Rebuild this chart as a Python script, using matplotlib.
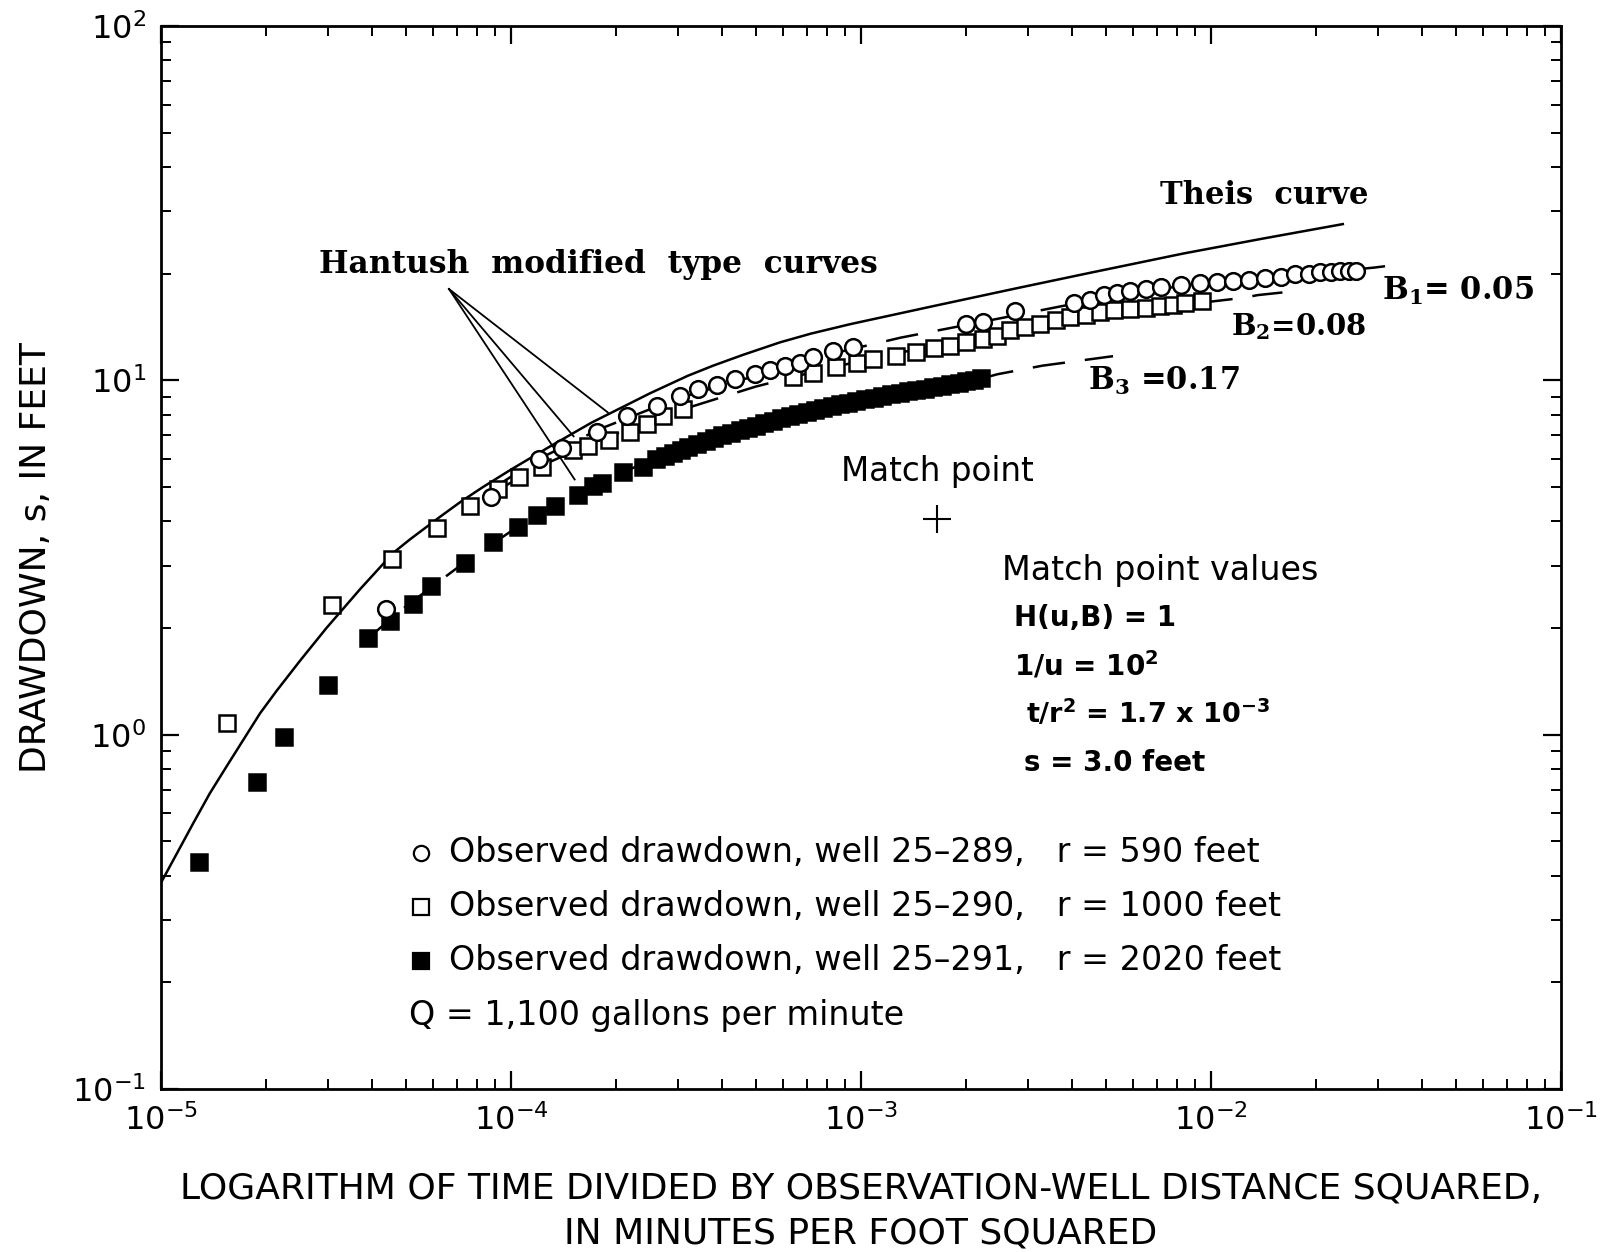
import matplotlib
matplotlib.use('Agg')
import matplotlib.pyplot as plt

# Theis type curve
theis_x = [1.0e-5, 1.237e-5, 1.38e-5, 1.54e-5, 1.72e-5, 1.92e-5, 2.14e-5, 2.5e-5, 2.97e-5, 3.7e-5,
           4.61e-5, 5.15e-5, 6.27e-5, 7.2e-5, 8.32e-5, 1.0e-4, 1.29e-4, 1.7e-4, 2.5e-4, 3.2e-4,
           3.78e-4, 4.6e-4, 5.87e-4, 7.2e-4, 9.3e-4, 1.61e-3, 2.79e-3, 4.5e-3, 8.34e-3, 1.4e-2, 2.38e-2]
theis_y = [0.382, 0.563, 0.684, 0.814, 0.968, 1.15, 1.33, 1.62, 2.0, 2.57,
           3.26, 3.56, 4.12, 4.55, 5.0, 5.6, 6.5, 7.6, 9.2, 10.3,
           11.0, 11.8, 12.8, 13.55, 14.4, 16.2, 18.2, 20.1, 22.8, 25.1, 27.6]

# Hantush modified type curves
b1_x = [9e-5, 1.2e-4, 1.8e-4, 3e-4, 5e-4, 8e-4, 1.3e-3, 2.2e-3, 4e-3, 7e-3, 1.2e-2, 2.0e-2, 2.92e-2, 3.54e-2]
b1_y = [5.0, 6.0, 7.3, 8.9, 10.3, 11.8, 13.2, 14.6, 16.4, 18.1, 19.2, 20.1, 20.8, 21.3]
b2_x = [9e-5, 1.2e-4, 1.8e-4, 3e-4, 5e-4, 8e-4, 1.3e-3, 2.2e-3, 4e-3, 7e-3, 1.01e-2, 1.24e-2, 1.36e-2, 1.6e-2]
b2_y = [4.85, 5.7, 6.8, 8.2, 9.6, 10.8, 12.0, 13.1, 15.1, 16.1, 16.7, 17.1, 17.4, 17.7]
b3_x = [3.8e-5, 5e-5, 7e-5, 1e-4, 1.5e-4, 2.5e-4, 4e-4, 7e-4, 1.2e-3, 2.2e-3, 2.45e-3, 3.3e-3, 5.25e-3]
b3_y = [1.83, 2.3, 2.95, 3.75, 4.75, 5.95, 7.0, 8.15, 9.1, 10.1, 10.4, 11.0, 11.7]

# Observed drawdown, well 25-289 (r = 590 ft)
w289_x = [4.39e-5, 8.77e-5, 1.2e-4, 1.4e-4, 1.76e-4, 2.14e-4, 2.61e-4, 3.04e-4, 3.43e-4, 3.87e-4,
          4.37e-4, 4.98e-4, 5.5e-4, 6.07e-4, 6.7e-4, 7.29e-4, 8.32e-4, 9.49e-4, 2.0e-3, 2.23e-3,
          2.75e-3, 4.06e-3, 4.5e-3, 4.95e-3, 5.4e-3, 5.87e-3, 6.5e-3, 7.2e-3, 8.2e-3, 9.3e-3,
          1.04e-2, 1.156e-2, 1.28e-2, 1.426e-2, 1.58e-2, 1.74e-2, 1.9e-2, 2.05e-2, 2.2e-2, 2.34e-2,
          2.48e-2, 2.6e-2]
w289_y = [2.27, 4.70, 5.98, 6.43, 7.13, 7.91, 8.46, 9.03, 9.43, 9.68,
          10.07, 10.4, 10.7, 11.0, 11.2, 11.6, 12.1, 12.4, 14.4, 14.6,
          15.7, 16.5, 16.9, 17.4, 17.6, 17.9, 18.1, 18.3, 18.6, 18.8,
          18.9, 19.05, 19.2, 19.4, 19.6, 19.9, 20.0, 20.2, 20.2, 20.3,
          20.3, 20.3]

# Observed drawdown, well 25-290 (r = 1000 ft)
w290_x = [1.54e-5, 3.09e-5, 4.58e-5, 6.16e-5, 7.64e-5, 9.18e-5, 1.054e-4, 1.227e-4, 1.503e-4, 1.66e-4,
          1.9e-4, 2.19e-4, 2.44e-4, 2.72e-4, 3.1e-4, 6.39e-4, 7.29e-4, 8.5e-4, 9.72e-4, 1.08e-3,
          1.26e-3, 1.44e-3, 1.62e-3, 1.8e-3, 2.0e-3, 2.23e-3, 2.44e-3, 2.67e-3, 2.95e-3, 3.25e-3,
          3.6e-3, 3.96e-3, 4.4e-3, 4.82e-3, 5.3e-3, 5.87e-3, 6.5e-3, 7.15e-3, 7.8e-3, 8.43e-3, 9.43e-3]
w290_y = [1.08, 2.33, 3.14, 3.82, 4.43, 4.92, 5.35, 5.71, 6.34, 6.51,
          6.8, 7.13, 7.51, 7.93, 8.28, 10.2, 10.5, 10.9, 11.2, 11.5,
          11.7, 12.0, 12.3, 12.5, 12.8, 13.1, 13.3, 13.9, 14.1, 14.4,
          14.8, 15.1, 15.3, 15.6, 15.8, 15.9, 16.0, 16.2, 16.3, 16.5, 16.7]

# Observed drawdown, well 25-291 (r = 2020 ft)
w291_x = [1.28e-5, 1.88e-5, 2.25e-5, 3.0e-5, 3.9e-5, 4.51e-5, 5.25e-5, 5.91e-5, 7.39e-5, 8.89e-5,
          1.05e-4, 1.19e-4, 1.34e-4, 1.55e-4, 1.71e-4, 1.82e-4, 2.09e-4, 2.38e-4,
          2.6e-4, 2.75e-4, 2.9e-4, 3.05e-4, 3.2e-4, 3.4e-4, 3.6e-4, 3.8e-4, 4.0e-4, 4.25e-4,
          4.5e-4, 4.75e-4, 5.0e-4, 5.3e-4, 5.6e-4, 5.9e-4, 6.25e-4, 6.6e-4, 7.0e-4, 7.4e-4,
          7.8e-4, 8.25e-4, 8.7e-4, 9.2e-4, 9.7e-4, 1.03e-3, 1.09e-3, 1.15e-3, 1.22e-3, 1.29e-3,
          1.36e-3, 1.44e-3, 1.52e-3, 1.61e-3, 1.7e-3, 1.8e-3, 1.9e-3, 2.0e-3, 2.1e-3, 2.2e-3]
w291_y = [0.437, 0.736, 0.987, 1.38, 1.87, 2.09, 2.34, 2.62, 3.06, 3.49,
          3.85, 4.18, 4.41, 4.76, 5.02, 5.12, 5.50, 5.71,
          6.0, 6.12, 6.25, 6.37, 6.48, 6.62, 6.76, 6.88, 7.0, 7.12,
          7.24, 7.35, 7.45, 7.57, 7.7, 7.82, 7.93, 8.04, 8.15, 8.26,
          8.36, 8.46, 8.55, 8.64, 8.74, 8.84, 8.94, 9.03, 9.13, 9.22,
          9.31, 9.4, 9.48, 9.57, 9.66, 9.76, 9.86, 9.95, 10.05, 10.15]

match_x = [1.65e-3]
match_y = [4.05]

# pointer lines for the Hantush label
pointer_start = (6.65e-5, 18.1)
pointer_tips_x = [1.89e-4, 1.51e-4, 1.52e-4]
pointer_tips_y = [8.12, 6.95, 5.25]

legend_rows = ['Observed drawdown, well 25\u2013289,   r = 590 feet',
               'Observed drawdown, well 25\u2013290,   r = 1000 feet',
               'Observed drawdown, well 25\u2013291,   r = 2020 feet']

SANS = 'DejaVu Sans'
SERIF = 'DejaVu Serif'


def plot():
    plt.rcParams['font.family'] = [SANS]
    plt.rcParams['mathtext.fontset'] = 'custom'
    plt.rcParams['mathtext.rm'] = SANS

    fig = plt.figure(figsize=(16.11, 12.52), dpi=100)
    ax = fig.add_axes([161 / 1611, 1 - 1089 / 1252, 1400 / 1611, 1063 / 1252])
    ax.set_xscale('log')
    ax.set_yscale('log')
    ax.set_xlim(1e-5, 1e-1)
    ax.set_ylim(1e-1, 1e2)

    ms = 12
    mew = 1.8
    dash = (0, (13, 8))

    ax.plot(theis_x, theis_y, color='black', lw=1.8, zorder=2)
    for cx, cy in [(b1_x, b1_y), (b2_x, b2_y), (b3_x, b3_y)]:
        ax.plot(cx, cy, color='black', lw=1.8, linestyle=dash, zorder=2)

    ax.plot(w291_x, w291_y, 's', ms=ms, mfc='black', mec='black', mew=mew, zorder=3)
    ax.plot(w290_x, w290_y, 's', ms=ms, mfc='white', mec='black', mew=mew, zorder=4)
    ax.plot(w289_x, w289_y, 'o', ms=ms, mfc='white', mec='black', mew=mew, zorder=5)
    ax.plot(match_x, match_y, '+', ms=20, mew=1.5, color='black', zorder=5)

    for tx, ty in zip(pointer_tips_x, pointer_tips_y):
        ax.plot([pointer_start[0], tx], [pointer_start[1], ty], color='black', lw=1.3, zorder=2)

    # ticks and spines
    for side in ['top', 'right', 'bottom', 'left']:
        ax.spines[side].set_linewidth(2.0)
    ax.tick_params(which='both', direction='in', top=True, right=True, colors='black')
    ax.tick_params(which='major', length=13, width=1.6, labelsize=23, pad=11)
    ax.tick_params(which='minor', length=7, width=1.4)
    ax.set_xticks([1e-5, 1e-4, 1e-3, 1e-2, 1e-1])
    ax.set_xticklabels([r'$\mathregular{10^{-5}}$', r'$\mathregular{10^{-4}}$', r'$\mathregular{10^{-3}}$',
                        r'$\mathregular{10^{-2}}$', r'$\mathregular{10^{-1}}$'])
    ax.set_yticks([1e-1, 1e0, 1e1, 1e2])
    ax.set_yticklabels([r'$\mathregular{10^{-1}}$', r'$\mathregular{10^{0}}$', r'$\mathregular{10^{1}}$',
                        r'$\mathregular{10^{2}}$'])

    ax.set_ylabel('DRAWDOWN, s, IN FEET', fontsize=26)
    ax.yaxis.set_label_coords(-0.077, 0.5)
    ax.set_xlabel('LOGARITHM OF TIME DIVIDED BY OBSERVATION-WELL DISTANCE SQUARED,\n'
                  'IN MINUTES PER FOOT SQUARED', fontsize=26, linespacing=1.4)
    ax.xaxis.set_label_coords(0.5, -0.078)

    def afr(px, py):
        return (px - 161) / 1400, (1089 - py) / 1063

    T = ax.transAxes
    ax.text(*afr(1264, 196), 'Theis  curve', transform=T, ha='center', va='center',
            family=SERIF, weight='bold', fontsize=22)
    ax.text(*afr(598, 265), 'Hantush  modified  type  curves', transform=T, ha='center', va='center',
            family=SERIF, weight='bold', fontsize=22.5)
    ax.text(*afr(1382, 300), r'$\mathregular{B_1}$= 0.05', transform=T, ha='left', va='baseline',
            family=SERIF, weight='bold', fontsize=22)
    ax.text(*afr(1231, 335), r'$\mathregular{B_2}$=0.08', transform=T, ha='left', va='baseline',
            family=SERIF, weight='bold', fontsize=21)
    ax.text(*afr(1088, 390), r'$\mathregular{B_3}$ =0.17', transform=T, ha='left', va='baseline',
            family=SERIF, weight='bold', fontsize=22)

    ax.text(*afr(937, 472), 'Match point', transform=T, ha='center', va='center', fontsize=23.5)
    ax.text(*afr(1002, 580), 'Match point values', transform=T, ha='left', va='baseline', fontsize=24)
    ax.text(*afr(1014, 626), 'H(u,B) = 1', transform=T, ha='left', va='baseline',
            fontsize=20, weight='bold')
    ax.text(*afr(1014, 675), r'1/u = 10$\mathregular{^2}$', transform=T, ha='left', va='baseline',
            fontsize=20, weight='bold')
    ax.text(*afr(1026, 723), r't/r$\mathregular{^2}$ = 1.7 x 10$\mathregular{^{-3}}$', transform=T,
            ha='left', va='baseline', fontsize=19.5, weight='bold')
    ax.text(*afr(1024, 771), 's = 3.0 feet', transform=T, ha='left', va='baseline',
            fontsize=20, weight='bold')

    # legend drawn as in the original figure
    row_y = [853, 907, 961]
    markers = [('o', 'white'), ('s', 'white'), ('s', 'black')]
    for (m, fc), py, label in zip(markers, row_y, legend_rows):
        ax.plot([afr(421, py)[0]], [afr(421, py)[1]], m, transform=T, ms=11, mfc=fc,
                mec='black', mew=1.6, clip_on=False)
        ax.text(*afr(449, py), label, transform=T, ha='left', va='center', fontsize=24)
    ax.text(*afr(409, 1015), 'Q = 1,100 gallons per minute', transform=T, ha='left', va='center',
            fontsize=24)

    fig.savefig('out.png', dpi=100)


if __name__ == "__main__":
    plot()
